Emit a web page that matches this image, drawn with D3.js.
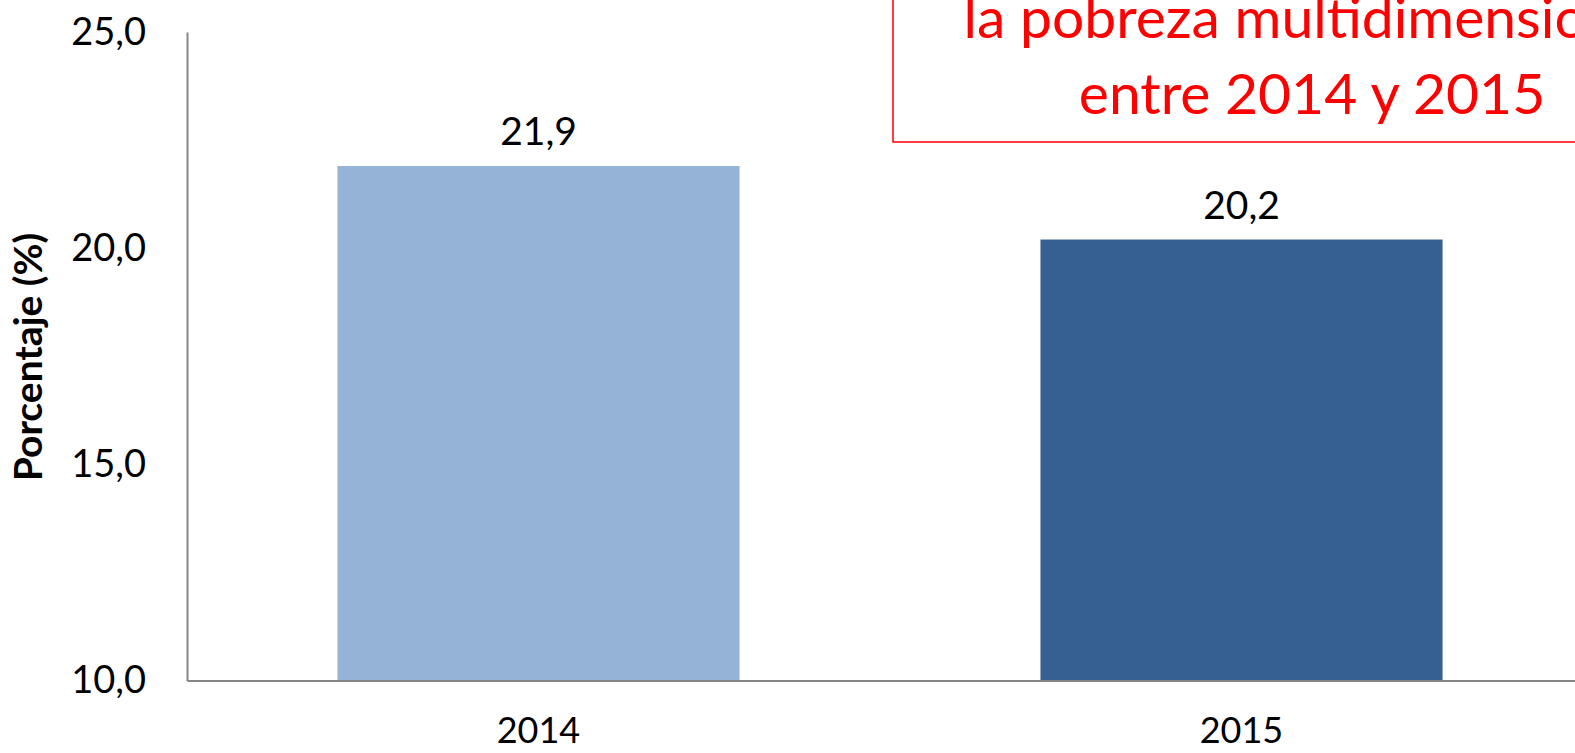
<!DOCTYPE html>
<html>
<head>
<meta charset="utf-8">
<script src="https://cdn.jsdelivr.net/npm/d3@7.9.0/dist/d3.min.js"></script>
<style>
  html, body { margin: 0; padding: 0; background: #fff; overflow: hidden; }
  svg { display: block; font-family: Lato, "Open Sans", sans-serif; }
</style>
</head>
<body>
<svg id="chart" width="1575" height="753"></svg>
<script>
const years = ['2014', '2015'];
const values = [21.9, 20.2];
const barColors = ['#95b3d7', '#376092'];
const yTicks = [10, 15, 20, 25];
const noteLines = ['la pobreza multidimensional', 'entre 2014 y 2015'];

const svg = d3.select('#chart');
const margin = { left: 187, top: 32, bottom: 72 };
const height = 753;
const step = 703;

const x = d3.scaleBand()
  .domain(years)
  .range([margin.left, margin.left + step * years.length])
  .paddingInner(0.428)
  .paddingOuter(0.214);

const y = d3.scaleLinear()
  .domain([10, 25])
  .range([height - margin.bottom - 0.5, margin.top]);

const fmt = (v) => d3.format('.1f')(v).replace('.', ',');

// bars
svg.append('g')
  .selectAll('rect')
  .data(years)
  .join('rect')
  .attr('x', (d) => x(d))
  .attr('width', x.bandwidth())
  .attr('y', (d, i) => y(values[i]))
  .attr('height', (d, i) => y(10) - y(values[i]))
  .attr('fill', (d, i) => barColors[i]);

// value labels
svg.append('g')
  .selectAll('text')
  .data(years)
  .join('text')
  .attr('x', (d) => x(d) + x.bandwidth() / 2)
  .attr('y', (d, i) => y(values[i]) - 21)
  .attr('text-anchor', 'middle')
  .attr('font-size', 39)
  .attr('fill', '#000')
  .text((d, i) => fmt(values[i]));

// y axis
const yAxis = svg.append('g')
  .attr('transform', `translate(${margin.left},0)`)
  .call(d3.axisLeft(y).tickValues(yTicks).tickFormat(fmt).tickSize(0).tickPadding(41));
yAxis.select('.domain').attr('stroke', '#868686').attr('stroke-width', 2);
yAxis.selectAll('text')
  .attr('font-family', 'Lato, sans-serif')
  .attr('font-size', 38)
  .attr('fill', '#000');

// x axis
const xAxis = svg.append('g')
  .attr('transform', `translate(0,${y(10)})`)
  .call(d3.axisBottom(x).tickSize(0).tickPadding(37));
xAxis.select('.domain').attr('stroke', '#868686').attr('stroke-width', 2);
xAxis.selectAll('text')
  .attr('font-family', 'Lato, sans-serif')
  .attr('font-size', 36)
  .attr('fill', '#000');

// y axis title
svg.append('text')
  .attr('transform', `translate(42,357) rotate(-90)`)
  .attr('text-anchor', 'middle')
  .attr('font-size', 39)
  .attr('font-weight', 'bold')
  .attr('fill', '#000')
  .text('Porcentaje (%)');

// note box
const boxLeft = 893;
const boxRight = 1731;
svg.append('rect')
  .attr('x', boxLeft)
  .attr('y', -20)
  .attr('width', boxRight - boxLeft)
  .attr('height', 162)
  .attr('fill', 'none')
  .attr('stroke', '#ff0000')
  .attr('stroke-width', 1.5);

svg.append('g')
  .selectAll('text')
  .data(noteLines)
  .join('text')
  .attr('x', (boxLeft + boxRight) / 2)
  .attr('y', (d, i) => 38 + i * 76)
  .attr('text-anchor', 'middle')
  .attr('font-size', 57)
  .attr('fill', '#ff0000')
  .text((d) => d);
</script>
</body>
</html>
